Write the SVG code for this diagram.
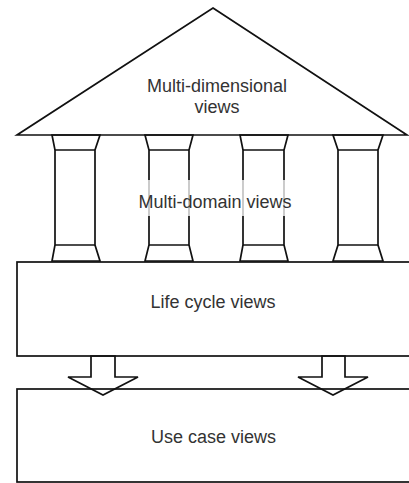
<svg xmlns="http://www.w3.org/2000/svg" width="409" height="483" viewBox="0 0 409 483">
<style>
.s{fill:none;stroke:#111;stroke-width:1.7;stroke-linejoin:miter}
.w{fill:#fff;stroke:#111;stroke-width:1.7}
.t{font-family:"Liberation Sans",Arial,sans-serif;font-size:18px;fill:#333;text-anchor:middle}
</style>
<rect width="409" height="483" fill="#fff"/>
<g id="roof">
<polygon class="w" points="213,8 407,135 17,135"/>
<text class="t" x="217" y="92">Multi-dimensional</text>
<text class="t" x="217" y="113">views</text>
</g>
<g id="columns">
<g id="col1" class="s">
<polygon points="52,135 100,135 95,150 95,245 100,261 52,261 55,245 55,150"/>
<line x1="55" y1="150" x2="95" y2="150"/><line x1="55" y1="245" x2="95" y2="245"/>
</g>
<g id="col2" class="s">
<polygon points="145,135 193,135 189,150 189,245 193,261 145,261 149,245 149,150"/>
<line x1="149" y1="150" x2="189" y2="150"/><line x1="149" y1="245" x2="189" y2="245"/>
</g>
<g id="col3" class="s">
<polygon points="240,135 288,135 284,150 284,245 288,261 240,261 243,245 243,150"/>
<line x1="243" y1="150" x2="284" y2="150"/><line x1="243" y1="245" x2="284" y2="245"/>
</g>
<g id="col4" class="s">
<polygon points="333,135 383,135 378,150 378,245 383,261 333,261 338,245 338,150"/>
<line x1="338" y1="150" x2="378" y2="150"/><line x1="338" y1="245" x2="378" y2="245"/>
</g>
<g id="multidomain">
<rect x="135" y="180" width="160" height="36" fill="#fff" opacity="0.75"/>
<text class="t" x="215" y="208">Multi-domain views</text>
</g>
</g>
<g id="lifecycle">
<rect class="w" x="17" y="262" width="400" height="94"/>
<text class="t" x="213" y="308">Life cycle views</text>
</g>
<g id="usecase">
<rect class="w" x="17" y="389" width="400" height="93"/>
<text class="t" x="213.5" y="443">Use case views</text>
</g>
<g id="connectors" class="s">
<polygon points="91,356 115,356 115,377 138,377 103,395 68,377 91,377"/>
<polygon points="322,356 345,356 345,377 368,377 333,395 298,377 322,377"/>
</g>
</svg>
